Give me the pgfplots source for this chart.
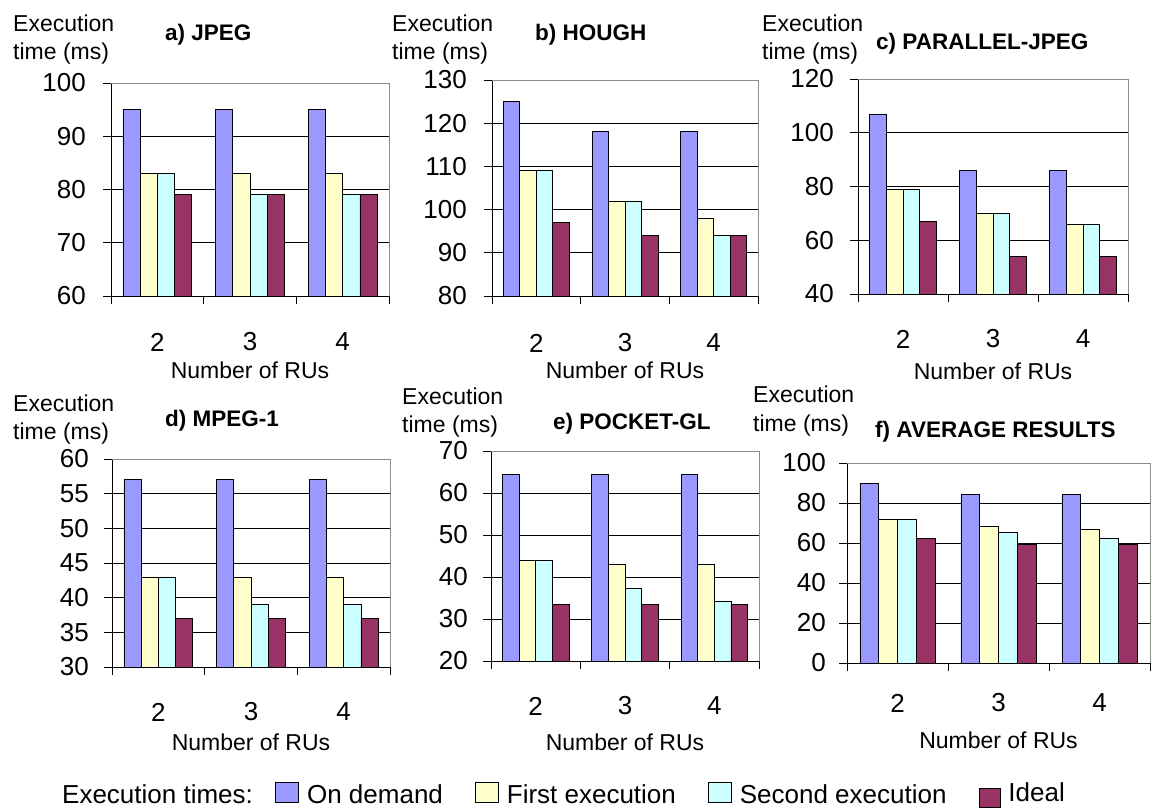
\documentclass[border=0pt]{standalone}
\usepackage{fontspec}
\setmainfont{Liberation Sans}
\usepackage{pgfplots}
\pgfplotsset{compat=1.18}
\usepackage{pgfplotstable}

\definecolor{ondemand}{HTML}{9999FF}
\definecolor{firstex}{HTML}{FFFFCC}
\definecolor{secondex}{HTML}{CCFFFF}
\definecolor{ideal}{HTML}{993366}
\definecolor{framegray}{HTML}{8C8C8C}

\pgfplotstableread{
x od fe se id
1 95 83 83 79
2 95 83 79 79
3 95 83 79 79
}\jpeg
\pgfplotstableread{
x od fe se id
1 125 109 109 97
2 118 102 102 94
3 118 98 94 94
}\hough
\pgfplotstableread{
x od fe se id
1 107 79 79 67
2 86 70 70 54
3 86 66 66 54
}\pjpeg
\pgfplotstableread{
x od fe se id
1 57 43 43 37
2 57 43 39 37
3 57 43 39 37
}\mpeg
\pgfplotstableread{
x od fe se id
1 64.5 44 44 33.4
2 64.5 42.9 37.2 33.4
3 64.5 42.9 34.3 33.4
}\pocket
\pgfplotstableread{
x od fe se id
1 89.8 71.6 71.6 62.4
2 84.1 68.4 65.2 59.5
3 84.1 66.9 62.4 59.5
}\average

\pgfplotsset{
  panel/.style={
    scale only axis,
    anchor=south west,
    ybar=0pt, bar width=0.186,
    xmin=0.5, xmax=3.5,
    xtick={0.5,1.5,2.5,3.5}, xticklabels={},
    extra x ticks={1,2,3}, extra x tick labels={2,3,4},
    extra x tick style={major tick length=0pt, grid=none},
    axis x line*=bottom, axis y line*=left,
    axis line style={black, line width=0.9pt},
    tick align=outside,
    major tick length=8pt,
    tick style={black, line width=0.9pt},
    ymajorgrids, grid style={black, line width=0.7pt},
    tick label style={font=\fontsize{26}{30}\selectfont},
    /pgf/number format/assume math mode=true,
    yticklabel style={anchor=east, inner sep=0pt},
    xticklabel style={anchor=center, inner sep=0pt},
    xlabel={Number of RUs},
    xlabel style={font=\fontsize{23}{27}\selectfont, anchor=base, inner sep=0pt},
    every axis plot/.append style={draw=black, line width=0.7pt},
    extra description/.code={\draw[framegray, line width=0.9pt] (rel axis cs:0,1) -- (rel axis cs:1,1) -- (rel axis cs:1,0);},
  },
  xtl/.style={xticklabel style={yshift=-#1pt}},
  xl/.style={xlabel style={at={(axis description cs:0.5,0)}, yshift=-#1pt}},
  ytl/.style={yticklabel style={xshift=-#1pt}},
}

\newcommand{\bars}[1]{%
  \addplot[fill=ondemand] table[x=x,y=od]{#1};
  \addplot[fill=firstex] table[x=x,y=fe]{#1};
  \addplot[fill=secondex] table[x=x,y=se]{#1};
  \addplot[fill=ideal] table[x=x,y=id]{#1};
}

\newcommand{\lab}{\fontsize{23}{27}\selectfont}
\newcommand{\ttl}{\fontsize{22.5}{27}\selectfont\bfseries}

\begin{document}
\begin{tikzpicture}
\useasboundingbox (0pt,0pt) rectangle (1151pt,808pt);

% a) JPEG
\begin{axis}[panel, at={(111pt,512pt)}, width=278pt, height=213pt,
  ymin=60, ymax=100, ytick={60,70,80,90,100}, xtl=46, xl=83, ytl=17]
\bars{\jpeg}
\end{axis}
% b) HOUGH
\begin{axis}[panel, at={(492pt,512pt)}, width=266pt, height=216pt,
  ymin=80, ymax=130, ytick={80,90,100,110,120,130}, xtl=47, xl=83, ytl=17]
\bars{\hough}
\end{axis}
% c) PARALLEL-JPEG
\begin{axis}[panel, at={(858pt,514pt)}, width=270pt, height=215pt,
  ymin=40, ymax=120, ytick={40,60,80,100,120}, xtl=45, xl=86, ytl=16]
\bars{\pjpeg}
\end{axis}
% d) MPEG-1
\begin{axis}[panel, at={(112pt,141pt)}, width=278pt, height=208pt,
  ymin=30, ymax=60, ytick={30,35,40,45,50,55,60}, xtl=45, xl=84, ytl=15]
\bars{\mpeg}
\end{axis}
% e) POCKET-GL
\begin{axis}[panel, at={(491pt,147pt)}, width=268pt, height=210pt,
  ymin=20, ymax=70, ytick={20,30,40,50,60,70}, xtl=45, xl=90, ytl=15]
\bars{\pocket}
\end{axis}
% f) AVERAGE RESULTS
\begin{axis}[panel, at={(847pt,145pt)}, width=303pt, height=200pt,
  ymin=0, ymax=100, ytick={0,20,40,60,80,100}, xtl=40, xl=86, ytl=13]
\bars{\average}
\end{axis}

% axis labels and titles
\node[anchor=base west, inner sep=0pt, font=\lab] at (13pt,776pt) {Execution};
\node[anchor=base west, inner sep=0pt, font=\lab] at (13pt,748pt) {time (ms)};
\node[anchor=base west, inner sep=0pt, font=\ttl] at (165pt,767pt) {a) JPEG};

\node[anchor=base west, inner sep=0pt, font=\lab] at (392pt,776pt) {Execution};
\node[anchor=base west, inner sep=0pt, font=\lab] at (392pt,748pt) {time (ms)};
\node[anchor=base west, inner sep=0pt, font=\ttl] at (535pt,767pt) {b) HOUGH};

\node[anchor=base west, inner sep=0pt, font=\lab] at (762pt,776pt) {Execution};
\node[anchor=base west, inner sep=0pt, font=\lab] at (762pt,748pt) {time (ms)};
\node[anchor=base west, inner sep=0pt, font=\ttl] at (876pt,758pt) {c) PARALLEL-JPEG};

\node[anchor=base west, inner sep=0pt, font=\lab] at (13pt,396pt) {Execution};
\node[anchor=base west, inner sep=0pt, font=\lab] at (13pt,368pt) {time (ms)};
\node[anchor=base west, inner sep=0pt, font=\ttl] at (165pt,381pt) {d) MPEG-1};

\node[anchor=base west, inner sep=0pt, font=\lab] at (402pt,403pt) {Execution};
\node[anchor=base west, inner sep=0pt, font=\lab] at (402pt,375pt) {time (ms)};
\node[anchor=base west, inner sep=0pt, font=\ttl] at (553pt,378pt) {e) POCKET-GL};

\node[anchor=base west, inner sep=0pt, font=\lab] at (753pt,405pt) {Execution};
\node[anchor=base west, inner sep=0pt, font=\lab] at (753pt,376pt) {time (ms)};
\node[anchor=base west, inner sep=0pt, font=\ttl] at (875pt,370pt) {f) AVERAGE RESULTS};

% legend
\node[anchor=base west, inner sep=0pt, font=\fontsize{26}{30}\selectfont] at (62pt,4pt) {Execution times:};
\begin{axis}[at={(275pt,0pt)}, anchor=south west, hide axis, scale only axis,
  width=10pt, height=10pt, xmin=0, xmax=1, ymin=0, ymax=1,
  legend columns=-1,
  legend style={at={(0,0)}, anchor=south west, draw=none, fill=none, inner sep=0pt,
    font=\fontsize{26}{30}\selectfont, nodes={inner sep=0pt},
    cells={anchor=base west},
    /tikz/every odd column/.append style={column sep=8pt},
    /tikz/every even column/.append style={column sep=32pt}},
  legend image code/.code={\draw[line width=0.9pt, #1] (0pt,1pt) rectangle (23pt,21pt);},
]
\addlegendimage{draw=black, fill=ondemand}
\addlegendentry{On demand}
\addlegendimage{draw=black, fill=firstex}
\addlegendentry{First execution}
\addlegendimage{draw=black, fill=secondex}
\addlegendentry{Second execution\hspace{12pt}}
\addlegendimage{legend image code/.code={\draw[line width=0.9pt, draw=black, fill=ideal] (0pt,-4pt) rectangle (21pt,15pt);}}
\addlegendentry{\raisebox{2pt}{Ideal}}
\end{axis}
\end{tikzpicture}
\end{document}
